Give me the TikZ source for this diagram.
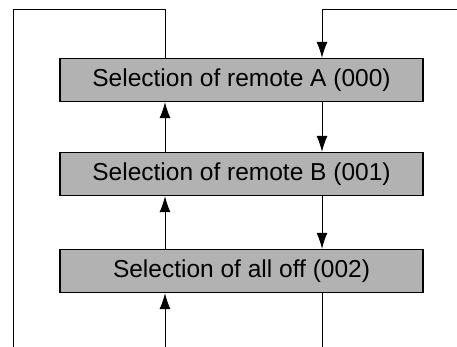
\documentclass[tikz,border=0pt]{standalone}
\usepackage{fontspec}
\setmainfont{Liberation Sans}
\usepackage{tikz}
\usetikzlibrary{arrows.meta, calc, positioning}
\usepackage{xcolor}

\tikzset{
    selbox/.style={draw, line width=1.3pt, fill=black!30, minimum width=363pt,
        minimum height=43pt, inner sep=0pt, font=\fontsize{24.5}{27}\selectfont},
    flow/.style={line width=1pt, -{Latex[length=16pt, width=11pt]}},
    wire/.style={line width=1pt}
}

\begin{document}
\begin{tikzpicture}[x=1pt, y=-1pt]
    \useasboundingbox (0, 0) rectangle (457, 347);

    % 选择框
    \node[selbox] (remA) at (241.5, 80) {Selection of remote A (000)};
    \node[selbox] (remB) at (241.5, 174) {Selection of remote B (001)};
    \node[selbox] (allOff) at (241.5, 271) {Selection of all off (002)};

    % 辅助坐标
    \coordinate (lx) at (165, 347);
    \coordinate (rx) at (322, 347);
    \coordinate (topL) at (13, 10);
    \coordinate (botL) at (13, 347);
    \coordinate (topR) at (457, 10);

    % 右侧向下
    \draw[flow] (topR) -| (remA.north -| rx);
    \draw[flow] (remA.south -| rx) -- (remB.north -| rx);
    \draw[flow] (remB.south -| rx) -- (allOff.north -| rx);
    \draw[wire] (allOff.south -| rx) -- (rx);

    % 左侧向上
    \draw[flow] (lx) -- (allOff.south -| lx);
    \draw[flow] (allOff.north -| lx) -- (remB.south -| lx);
    \draw[flow] (remB.north -| lx) -- (remA.south -| lx);
    \draw[wire] (remA.north -| lx) |- (topL) -- (botL);
\end{tikzpicture}
\end{document}
